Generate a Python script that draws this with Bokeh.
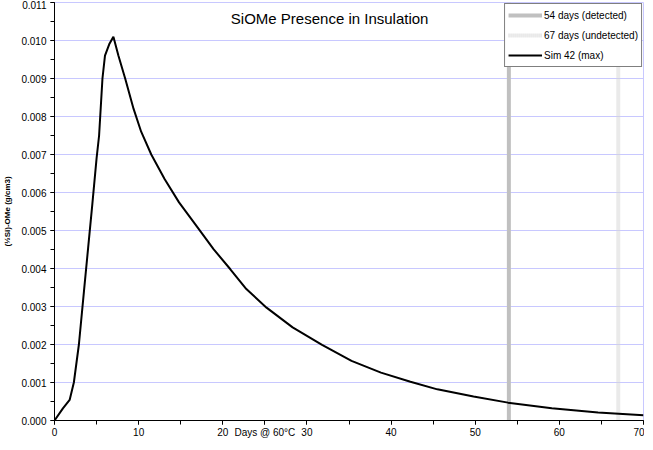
from bokeh.plotting import figure
from bokeh.models import ColumnDataSource, FixedTicker, NumeralTickFormatter, Label, Range1d
from bokeh.embed import file_html
from bokeh.resources import INLINE

# ---- data ----
days = [0, 1.0, 1.8, 2.3, 2.9, 3.5, 4.0, 4.5, 5.0, 5.3, 5.7, 6.0, 6.5, 7.0, 7.6, 8.4,
        9.4, 10.3, 11.5, 13.1, 14.8, 17.0, 18.9, 20.9, 22.8, 25.2, 28.3, 31.8, 35.3,
        38.8, 42.3, 45.5, 49.8, 53.9, 59.1, 64.6, 70.0]
sim42 = [0.0, 0.00032, 0.00054, 0.0010, 0.0020, 0.0034, 0.00455, 0.0057, 0.0069, 0.0075,
         0.0090, 0.0096, 0.0099, 0.0101, 0.0096, 0.0090, 0.0082, 0.0076, 0.0070, 0.00635,
         0.00574, 0.00508, 0.00451, 0.00398, 0.00346, 0.00297, 0.00245, 0.00199, 0.00157,
         0.00126, 0.00102, 0.00082, 0.00063, 0.00047, 0.00032, 0.00021, 0.00014]
detected_day = 54
undetected_day = 67
series_names = ["54 days (detected)", "67 days (undetected)", "Sim 42 (max)"]
x_ticks = [0, 10, 20, 30, 40, 50, 60, 70]
x_minor = [0, 5, 10, 15, 20, 25, 30, 35, 40, 45, 50, 55, 60, 65, 70]
y_ticks = [0.000, 0.001, 0.002, 0.003, 0.004, 0.005, 0.006, 0.007, 0.008, 0.009, 0.010, 0.011]
y_minor = [i * 0.0005 for i in range(23)]
x_min, x_max = 0, 70
y_min, y_max = 0.0, 0.011
title_text = "SiOMe Presence in Insulation"
x_label = "Days @ 60°C"
x_label_pos = 25
y_label = "(½Si)-OMe (g/cm3)"

FONT = "Liberation Sans"

p = figure(frame_width=589, frame_height=418, output_backend="svg", toolbar_location=None,
           x_range=Range1d(x_min, x_max), y_range=Range1d(y_min, y_max),
           min_border_left=47, min_border_right=1, min_border_top=2, min_border_bottom=14,
           background_fill_color="white", border_fill_color="white")
p.outline_line_color = "#c8c8ff"
p.xgrid.visible = False
p.ygrid.grid_line_color = "#c8c8ff"
p.ygrid.grid_line_width = 1

for ax in (p.xaxis[0], p.yaxis[0]):
    ax.axis_line_color = "black"
    ax.major_tick_in = 0
    ax.major_tick_out = 4
    ax.minor_tick_in = 0
    ax.minor_tick_out = 4
    ax.major_tick_line_color = "black"
    ax.minor_tick_line_color = "black"
    ax.major_label_text_font = FONT
    ax.major_label_text_font_size = "10px"
    ax.major_label_text_color = "black"

# the x-axis title sits in the tick-label row (at 25 days), as in the reference
p.xaxis[0].ticker = FixedTicker(ticks=sorted(x_ticks + [x_label_pos]), minor_ticks=x_minor)
p.xaxis[0].major_label_overrides = {x_label_pos: x_label}
p.xaxis[0].major_label_standoff = 2
p.yaxis[0].ticker = FixedTicker(ticks=y_ticks, minor_ticks=y_minor)
p.yaxis[0].formatter = NumeralTickFormatter(format="0.000")
p.yaxis[0].major_label_standoff = 4
p.yaxis[0].axis_label = y_label
p.yaxis[0].axis_label_text_font = FONT
p.yaxis[0].axis_label_text_font_size = "8px"
p.yaxis[0].axis_label_text_font_style = "bold"
p.yaxis[0].axis_label_text_color = "black"
p.yaxis[0].axis_label_standoff = 6

det_src = ColumnDataSource(dict(x=[detected_day], y0=[y_min], y1=[y_max]))
und_src = ColumnDataSource(dict(x=[undetected_day], y0=[y_min], y1=[y_max]))
sim_src = ColumnDataSource(dict(x=days, y=sim42))

p.segment(x0="x", y0="y0", x1="x", y1="y1", source=det_src, line_color="#c0c0c0",
          line_width=4, legend_label=series_names[0])
p.segment(x0="x", y0="y0", x1="x", y1="y1", source=und_src, line_color="#d6d6d6",
          line_width=4, line_dash="1 1", legend_label=series_names[1])
p.line(x="x", y="y", source=sim_src, line_color="black", line_width=2,
       legend_label=series_names[2])

lg = p.legend[0]
lg.location = "top_right"
lg.margin = 1
lg.padding = 3
lg.spacing = 4
lg.label_height = 16
lg.glyph_height = 16
lg.glyph_width = 34
lg.label_standoff = 2
lg.label_text_font = FONT
lg.label_text_font_size = "10px"
lg.label_text_color = "black"
lg.border_line_color = "black"
lg.border_line_width = 1
lg.background_fill_color = "white"
lg.background_fill_alpha = 1.0

p.add_layout(Label(x=32.7, y=0.01058, text=title_text, text_font=FONT,
                   text_font_size="15px", text_align="center",
                   text_baseline="alphabetic", text_color="black"))

open("out.html", "w").write(file_html(p, INLINE))
